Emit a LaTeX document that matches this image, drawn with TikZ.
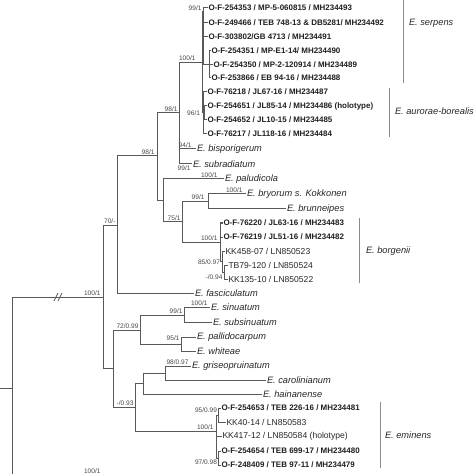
\documentclass[tikz,border=0pt]{standalone}
\usepackage{fontspec}
\setmainfont{Liberation Sans}
\begin{document}
\begin{tikzpicture}[x=1bp,y=-1bp,
  br/.style={draw=black!65, line width=1bp},
  bold/.style={anchor=west, inner sep=0.8bp, font=\fontsize{8}{9}\selectfont\bfseries, text=black!88},
  reg/.style={anchor=west, inner sep=0.8bp, font=\fontsize{8.6}{9}\selectfont, text=black!85},
  sp/.style={anchor=west, inner sep=0.8bp, font=\fontsize{9.3}{10}\selectfont\itshape, text=black!85},
  sup/.style={inner sep=0.3bp, font=\fontsize{6.6}{7}\selectfont, text=black!72},
  bar/.style={draw=black!45, line width=1bp},
  grp/.style={anchor=west, inner sep=0.8bp, font=\fontsize{9.3}{10}\selectfont\itshape, text=black!85}]
\useasboundingbox (0,0) rectangle (474,474);
\clip (0,0) rectangle (474,474);
% ---------- internal nodes ----------
\coordinate (r0) at (0,388);
\coordinate (root) at (12,388);
\coordinate (og) at (150,480);
\coordinate (A) at (103,297);
\coordinate (B) at (117,225);
\coordinate (C) at (157,156);
\coordinate (D) at (179,113);
\coordinate (M) at (202.5,62.5);
\coordinate (S) at (203.5,12);
\coordinate (S2) at (209,64.5);
\coordinate (AU) at (203,113);
\coordinate (AU2) at (204.5,113);
\coordinate (E) at (163,200.5);
\coordinate (F) at (182,222);
\coordinate (G) at (208,201.5);
\coordinate (H) at (220,242);
\coordinate (I) at (222,261.5);
\coordinate (J) at (224,272);
\coordinate (P) at (113,368.5);
\coordinate (Q) at (140,330);
\coordinate (Q1) at (184,315);
\coordinate (Q2) at (181,344);
\coordinate (R) at (135,407);
\coordinate (R1) at (143,383);
\coordinate (R11) at (165,373);
\coordinate (R2) at (216,431);
\coordinate (R21) at (218,415);
\coordinate (R22) at (218,458);
% ---------- taxa ----------
\node[bold] (t1) at (207.5,8) {O-F-254353 / MP-5-060815 / MH234493};
\node[bold] (t2) at (207.5,22.5) {O-F-249466 / TEB 748-13 \& DB5281/ MH234492};
\node[bold] (t3) at (207.5,37) {O-F-303802/GB 4713 / MH234491};
\node[bold] (t4) at (210.5,51) {O-F-254351 / MP-E1-14/ MH234490};
\node[bold] (t5) at (212.5,64.5) {O-F-254350 / MP-2-120914 / MH234489};
\node[bold] (t6) at (210.5,78) {O-F-253866 / EB 94-16 / MH234488};
\node[bold] (t7) at (206.5,92) {O-F-76218 / JL67-16 / MH234487};
\node[bold] (t8) at (206.5,106) {O-F-254651 / JL85-14 / MH234486 (holotype)};
\node[bold] (t9) at (206.5,120) {O-F-254652 / JL10-15 / MH234485};
\node[bold] (t10) at (206.5,134) {O-F-76217 / JL118-16 / MH234484};
\node[sp] (t11) at (196,149) {E. bisporigerum};
\node[sp] (t12) at (192,164) {E. subradiatum};
\node[sp] (t13) at (224,179) {E. paludicola};
\node[sp] (t14) at (246,194) {E. bryorum s. Kokkonen};
\node[sp] (t15) at (286,209) {E. brunneipes};
\node[bold] (t16) at (222.5,223) {O-F-76220 / JL63-16 / MH234483};
\node[bold] (t17) at (222.5,237) {O-F-76219 / JL51-16 / MH234482};
\node[reg] (t18) at (224.5,251) {KK458-07 / LN850523};
\node[reg] (t19) at (227.5,265) {TB79-120 / LN850524};
\node[reg] (t20) at (227.5,279) {KK135-10 / LN850522};
\node[sp] (t21) at (194,293) {E. fasciculatum};
\node[sp] (t22) at (210,307.5) {E. sinuatum};
\node[sp] (t23) at (212,322) {E. subsinuatum};
\node[sp] (t24) at (196,337) {E. pallidocarpum};
\node[sp] (t25) at (196,351) {E. whiteae};
\node[sp] (t26) at (191,366) {E. griseopruinatum};
\node[sp] (t27) at (266,380) {E. carolinianum};
\node[sp] (t28) at (262,394) {E. hainanense};
\node[bold] (t29) at (220.5,408) {O-F-254653 / TEB 226-16 / MH234481};
\node[reg] (t30) at (225.5,422) {KK40-14 / LN850583};
\node[reg] (t31) at (221.5,436.5) {KK417-12 / LN850584 (holotype)};
\node[bold] (t32) at (220.5,451) {O-F-254654 / TEB 699-17 / MH234480};
\node[bold] (t33) at (220.5,465) {O-F-248409 / TEB 97-11 / MH234479};
% ---------- branches ----------
\draw[br] (r0) -- (root);
\draw[br] (root) |- (A);
\draw[br] (root) |- (og);
\draw[br] (A) |- (B);
\draw[br] (A) |- (P);
\draw[br] (B) |- (C);
\draw[br] (B) |- (t21.west);
\draw[br] (C) |- (D);
\draw[br] (C) |- (E);
\draw[br] (D) |- (M);
\draw[br] (D) |- (t11.west);
\draw[br] (D) |- (t12.west);
\draw[br] (M) |- (S);
\draw[br] (M) |- (AU);
\draw[br] (S) |- (t1.west);
\draw[br] (S) |- (t2.west);
\draw[br] (S) |- (t3.west);
\draw[br] (S) |- (S2);
\draw[br] (S2) |- (t4.west);
\draw[br] (S2) |- (t5.west);
\draw[br] (S2) |- (t6.west);
\draw[br] (AU) |- (t7.west);
\draw[br] (AU) |- (t10.west);
\draw[br] (AU) |- (AU2);
\draw[br] (AU2) |- (t8.west);
\draw[br] (AU2) |- (t9.west);
\draw[br] (E) |- (t13.west);
\draw[br] (E) |- (F);
\draw[br] (F) |- (G);
\draw[br] (F) |- (H);
\draw[br] (G) |- (t14.west);
\draw[br] (G) |- (t15.west);
\draw[br] (H) |- (t16.west);
\draw[br] (H) |- (t17.west);
\draw[br] (H) |- (I);
\draw[br] (I) |- (t18.west);
\draw[br] (I) |- (J);
\draw[br] (J) |- (t19.west);
\draw[br] (J) |- (t20.west);
\draw[br] (P) |- (Q);
\draw[br] (P) |- (R);
\draw[br] (Q) |- (Q1);
\draw[br] (Q) |- (Q2);
\draw[br] (Q1) |- (t22.west);
\draw[br] (Q1) |- (t23.west);
\draw[br] (Q2) |- (t24.west);
\draw[br] (Q2) |- (t25.west);
\draw[br] (R) |- (R1);
\draw[br] (R) |- (R2);
\draw[br] (R1) |- (R11);
\draw[br] (R1) |- (t28.west);
\draw[br] (R11) |- (t26.west);
\draw[br] (R11) |- (t27.west);
\draw[br] (R2) |- (R21);
\draw[br] (R2) |- (t31.west);
\draw[br] (R2) |- (R22);
\draw[br] (R21) |- (t29.west);
\draw[br] (R21) |- (t30.west);
\draw[br] (R22) |- (t32.west);
\draw[br] (R22) |- (t33.west);
% break marks
\draw[br, line width=0.7bp] (54,301) -- (58,293);
\draw[br, line width=0.7bp] (58,301) -- (62,293);
% ---------- support values ----------
\node[sup, anchor=south east] (s1) at (202,11) {99/1};
\node[sup, anchor=south east] (s2) at (196,61) {100/1};
\node[sup, anchor=east] (s3) at (200.5,113.5) {96/1};
\node[sup, anchor=south east] (s4) at (178,112) {98/1};
\node[sup, anchor=south east] (s5) at (192,148) {94/1};
\node[sup, anchor=north east] (s6) at (191,165.5) {99/1};
\node[sup, anchor=south east] (s7) at (155,155) {98/1};
\node[sup, anchor=south east] (s8) at (116,224) {70/-};
\node[sup, anchor=south east] (s9) at (101,296) {100/1};
\node[sup, anchor=south east] (s10) at (218,178) {100/1};
\node[sup, anchor=south east] (s11) at (205,200) {99/1};
\node[sup, anchor=south east] (s12) at (243,193) {100/1};
\node[sup, anchor=south east] (s13) at (181,221) {75/1};
\node[sup, anchor=south east] (s14) at (218,241) {100/1};
\node[sup, anchor=east] (s15) at (220.5,262) {85/0.97};
\node[sup, anchor=east] (s16) at (223,277) {-/0.94};
\node[sup, anchor=south east] (s17) at (208,306) {100/1};
\node[sup, anchor=south east] (s18) at (183,314) {99/1};
\node[sup, anchor=south east] (s19) at (180,341) {95/1};
\node[sup, anchor=south east] (s20) at (139,329) {72/0.99};
\node[sup, anchor=south west] (s21) at (166,365) {98/0.97};
\node[sup, anchor=south east] (s22) at (134,406) {-/0.93};
\node[sup, anchor=south east] (s23) at (214,430) {100/1};
\node[sup, anchor=south east] (s24) at (217.5,413) {95/0.99};
\node[sup, anchor=east] (s25) at (217.5,462) {97/0.98};
\node[sup, anchor=south east] (s26) at (101,473.8) {100/1};
% ---------- group bars ----------
\coordinate (b1a) at (403,0);   \coordinate (b1b) at (403,83);
\coordinate (b2a) at (389,88);  \coordinate (b2b) at (389,137);
\coordinate (b3a) at (359,218); \coordinate (b3b) at (359,283);
\coordinate (b4a) at (380,402); \coordinate (b4b) at (380,468);
\draw[bar] (b1a) -- (b1b);
\draw[bar] (b2a) -- (b2b);
\draw[bar] (b3a) -- (b3b);
\draw[bar] (b4a) -- (b4b);
\node[grp] (g1) at (408,23) {E. serpens};
\node[grp] (g2) at (394,111) {E. aurorae-borealis};
\node[grp] (g3) at (365,251) {E. borgenii};
\node[grp] (g4) at (384,435) {E. eminens};
\end{tikzpicture}
\end{document}
